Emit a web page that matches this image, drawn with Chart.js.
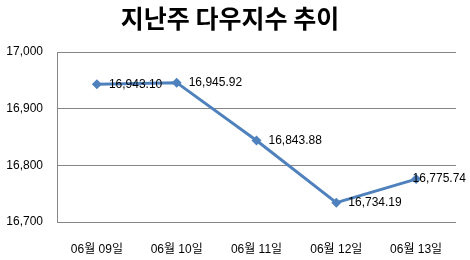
<!DOCTYPE html>
<html><head><meta charset="utf-8">
<script src="https://cdn.jsdelivr.net/npm/chart.js@4"></script>
<style>html,body{margin:0;padding:0;background:#fff}#wrap{width:470px;height:260px}</style>
</head><body><div id="wrap"><canvas id="c" width="470" height="260"></canvas></div>
<script>
const titleText = '지난주 다우지수 추이';
const categories = ['06월 09일','06월 10일','06월 11일','06월 12일','06월 13일'];
const values = [16943.10, 16945.92, 16843.88, 16734.19, 16775.74];
const valueLabels = ['16,943.10','16,945.92','16,843.88','16,734.19','16,775.74'];
const yTicks = [16700, 16800, 16900, 17000];

const fontFam = '"Liberation Sans", Arial, "Noto Sans CJK KR", sans-serif';

const titlePlugin = {
  id: 'tt',
  afterDraw(chart) {
    const ctx = chart.ctx;
    ctx.save();
    ctx.font = 'bold 25px "Noto Sans CJK KR", sans-serif';
    ctx.fillStyle = '#000';
    ctx.textAlign = 'center';
    ctx.textBaseline = 'middle';
    ctx.fillText(titleText, 230, 18);
    ctx.restore();
  }
};
const labelPlugin = {
  id: 'dl',
  afterDatasetsDraw(chart) {
    const ctx = chart.ctx;
    const meta = chart.getDatasetMeta(0);
    ctx.save();
    ctx.font = '12px ' + fontFam;
    ctx.fillStyle = '#000';
    ctx.textAlign = 'left';
    ctx.textBaseline = 'middle';
    meta.data.forEach((p, i) => {
      const t = valueLabels[i];
      const w = ctx.measureText(t).width;
      let x = p.x + 12;
      if (x + w > chart.width - 4) x = chart.width - 4 - w;
      ctx.fillText(t, x, p.y);
    });
    ctx.restore();
  }
};

new Chart(document.getElementById('c'), {
  type: 'line',
  data: {
    labels: categories,
    datasets: [{
      data: values,
      borderColor: '#4F81BD',
      backgroundColor: '#4F81BD',
      borderWidth: 3,
      pointStyle: 'rectRot',
      pointRadius: 5,
      pointBorderWidth: 0,
      tension: 0
    }]
  },
  options: {
    responsive: false,
    animation: false,
    layout: { padding: { top: 52, right: 14, left: 0, bottom: 0 } },
    plugins: { legend: { display: false }, title: { display: false }, tooltip: { enabled: false } },
    scales: {
      x: {
        offset: true,
        grid: { display: false },
        border: { display: false },
        ticks: { color: '#000', font: { size: 12, family: fontFam }, padding: 12, maxRotation: 0 },
        afterFit(s) { s.height = 38; }
      },
      y: {
        min: 16700, max: 17000,
        afterBuildTicks(s) { s.ticks = yTicks.map(v => ({ value: v })); },
        grid: { color: '#868686', drawTicks: false, lineWidth: 1 },
        border: { display: true, color: '#868686' },
        ticks: {
          color: '#000', font: { size: 12, family: fontFam }, padding: 14,
          callback: v => v.toLocaleString('en-US')
        },
        afterFit(s) { s.width = 57; }
      }
    }
  },
  plugins: [titlePlugin, labelPlugin]
});
</script></body></html>
